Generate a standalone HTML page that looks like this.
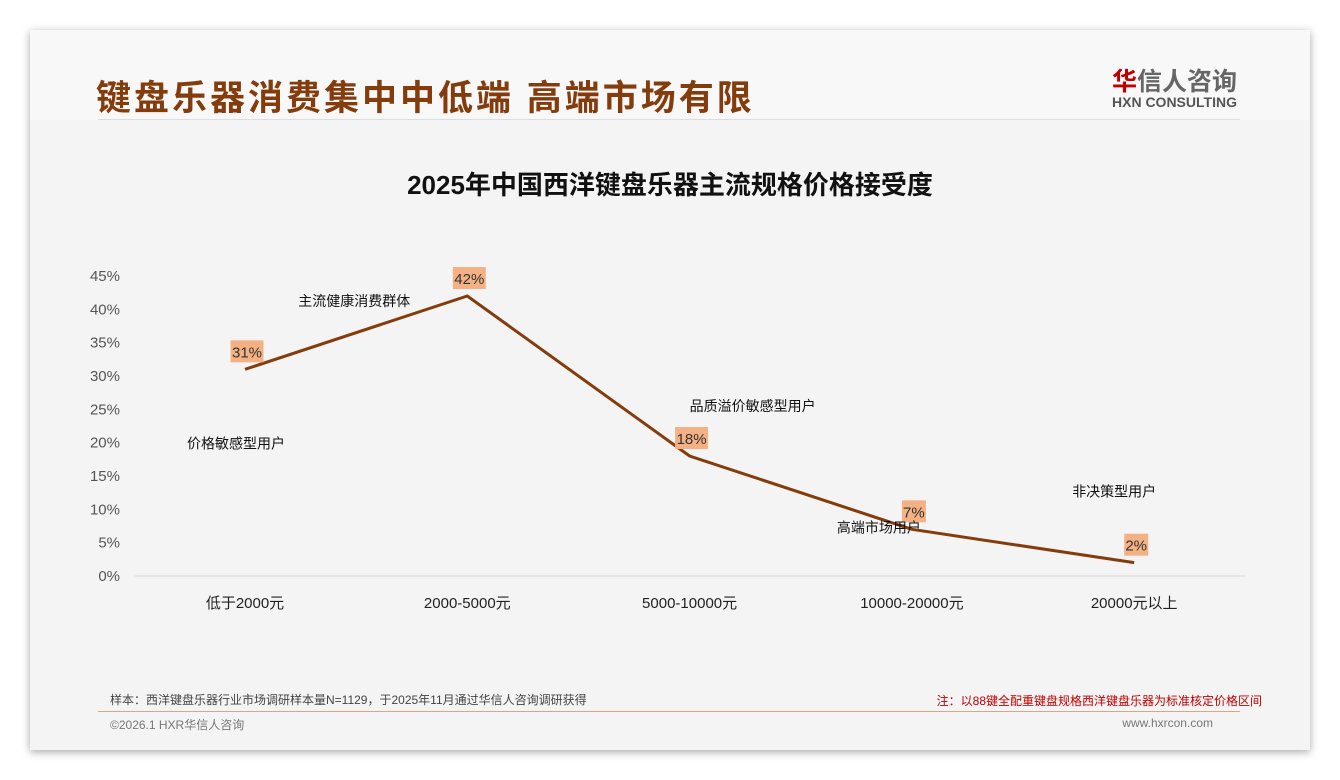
<!DOCTYPE html>
<html><head><meta charset="utf-8"><style>
body{margin:0;width:1340px;height:780px;background:#fff;font-family:"Liberation Sans","Noto Sans CJK SC",sans-serif;position:relative;overflow:hidden}
.card{position:absolute;left:30px;top:30px;width:1280px;height:720px;background:#f4f4f4;box-shadow:0 2px 8px rgba(0,0,0,.35)}
.abs{position:absolute;white-space:nowrap}
</style></head><body>
<div class="card">
 <div class="abs" style="left:0;top:0;width:1280px;height:90px;background:#f8f8f8"></div>
 <div class="abs" style="left:66px;top:40px;font-size:35px;font-weight:bold;color:#843c0c;letter-spacing:3px">键盘乐器消费集中中低端 高端市场有限</div>
 <div class="abs" style="left:1082px;top:32px;font-size:25px;font-weight:bold;color:#666"><span style="color:#c00000">华</span>信人咨询</div>
 <div class="abs" style="left:1082px;top:64px;font-size:14px;font-weight:bold;color:#555">HXN CONSULTING</div>
 <div class="abs" style="left:68px;top:89px;width:1142px;height:1px;background:#ddd"></div>
 <div class="abs" style="left:0;width:1280px;text-align:center;top:135px;font-size:26px;font-weight:bold;color:#111">2025年中国西洋键盘乐器主流规格价格接受度</div>
 <div class="abs" style="left:80px;top:661px;font-size:12px;color:#444">样本：西洋键盘乐器行业市场调研样本量N=1129，于2025年11月通过华信人咨询调研获得</div>
 <div class="abs" style="right:48px;top:662px;font-size:12px;color:#c00000">注：以88键全配重键盘规格西洋键盘乐器为标准核定价格区间</div>
 <div class="abs" style="left:68px;top:681px;width:1142px;height:1px;background:#d9a68a"></div>
 <div class="abs" style="left:80px;top:686px;font-size:12px;color:#777">©2026.1 HXR华信人咨询</div>
 <div class="abs" style="right:97px;top:686px;font-size:12px;color:#777">www.hxrcon.com</div>
</div>
<svg id="chart" width="1340" height="780" style="position:absolute;left:0;top:0" font-family="Liberation Sans, Noto Sans CJK SC, sans-serif"></svg>
<script>
const categories=["低于2000元","2000-5000元","5000-10000元","10000-20000元","20000元以上"];
const values=[31,42,18,7,2];
const valueLabels=["31%","42%","18%","7%","2%"];
const yTicks=[0,5,10,15,20,25,30,35,40,45];
const annotations=["价格敏感型用户","主流健康消费群体","品质溢价敏感型用户","高端市场用户","非决策型用户"];
const annotationOffsets=[[-58,79],[-169,10],[0,-45],[-75,3],[-62,-66]];
const svg=document.getElementById('chart');
const NS='http://www.w3.org/2000/svg';
const y=v=>576-v*300/45;
const x=i=>245+i*222.3;
function mk(t,a){const e=document.createElementNS(NS,t);for(const k in a)e.setAttribute(k,a[k]);svg.appendChild(e);return e;}
yTicks.forEach(t=>{const e=mk('text',{x:120,y:y(t)+5,'text-anchor':'end','font-size':15,fill:'#555'});e.textContent=t+'%';

});
const ax=mk('line',{x1:135,x2:1245,y1:y(0),y2:y(0),stroke:'#d9d9d9','stroke-width':1});


categories.forEach((c,i)=>{const e=mk('text',{x:x(i),y:608,'text-anchor':'middle','font-size':15,fill:'#222'});e.textContent=c;

});
const ln=mk('polyline',{points:values.map((v,i)=>x(i)+','+y(v)).join(' '),fill:'none',stroke:'#843c0c','stroke-width':3});


values.forEach((v,i)=>{
 const w=valueLabels[i].length*9+6;
 const r=mk('rect',{x:x(i)-w/2+2,y:y(v)-29,width:w,height:22,fill:'#f4b183'});
 
 
 const t=mk('text',{x:x(i)+2,y:y(v)-12,'text-anchor':'middle','font-size':15,fill:'#333'});t.textContent=valueLabels[i];
 
 
 const a=mk('text',{x:x(i)+annotationOffsets[i][0],y:y(v)+annotationOffsets[i][1],'font-size':14,fill:'#111'});a.textContent=annotations[i];
 
 
});
</script>
</body></html>
